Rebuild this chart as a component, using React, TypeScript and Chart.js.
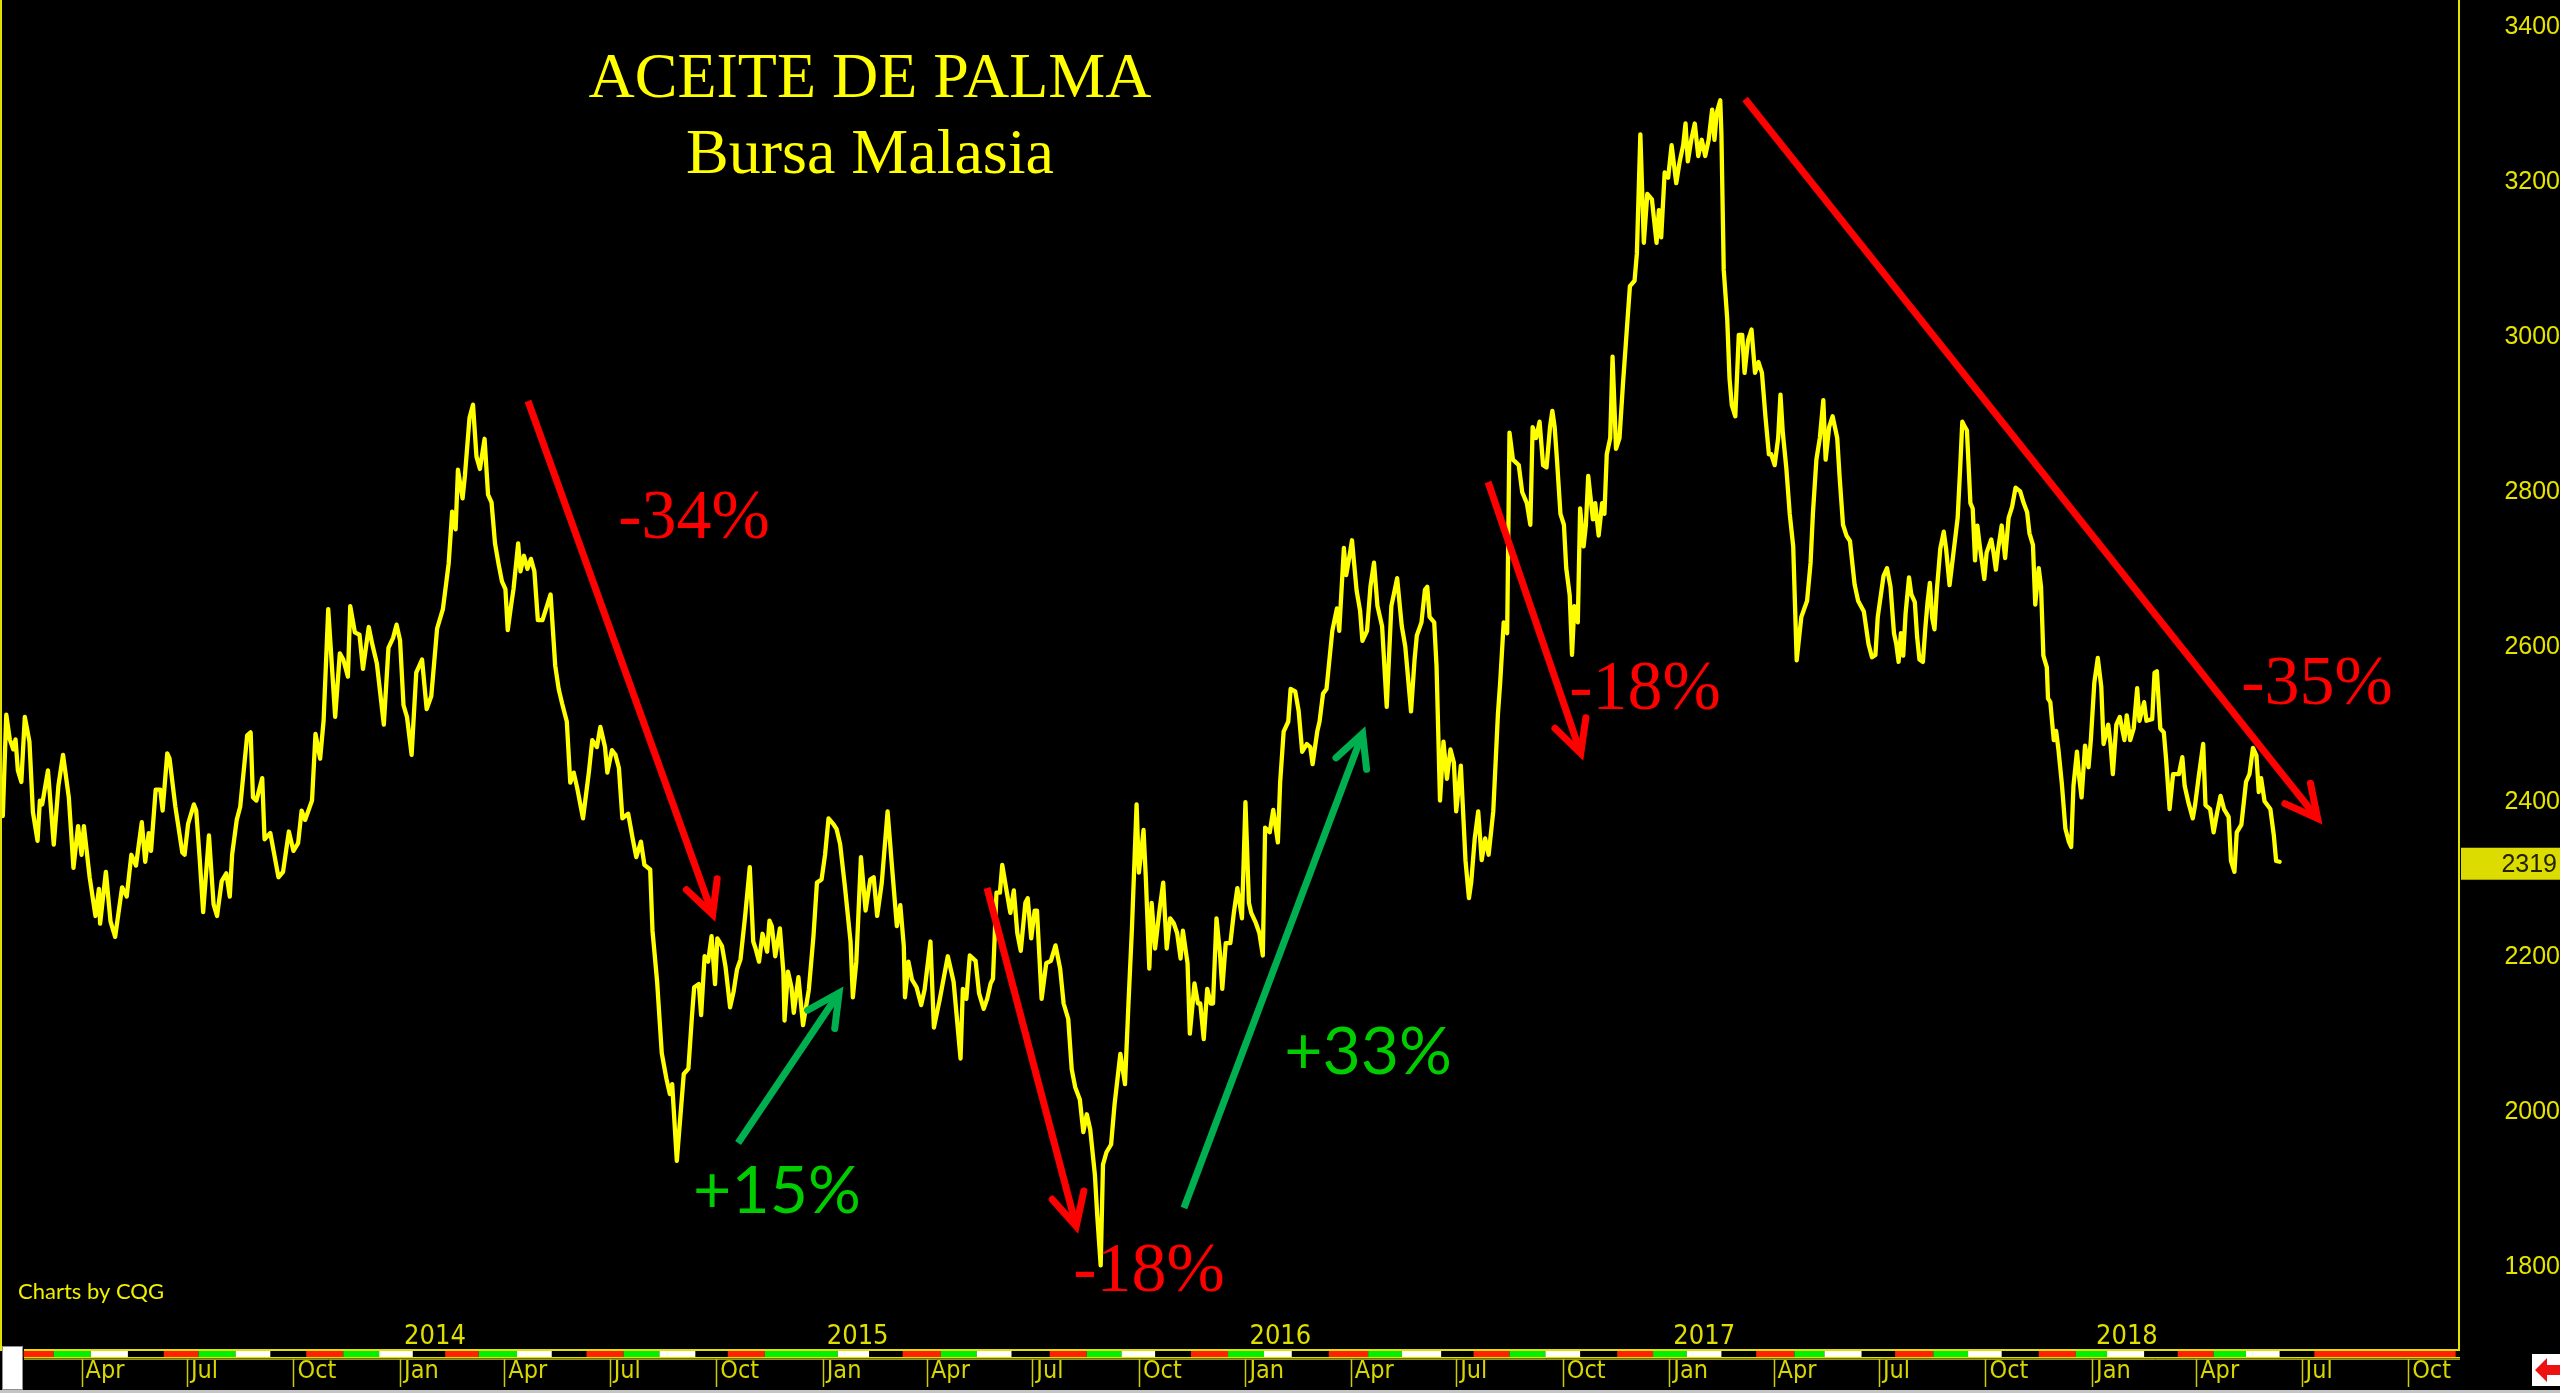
import React, { useEffect, useRef } from 'react';
import { Chart, registerables } from 'chart.js';

Chart.register(...registerables);

// x values: days since 1 Jan 2013 ; y values: price (MYR / tonne)
const days: number[] = [
  22, 25, 28, 31, 33, 35, 38, 41, 45, 48, 52, 54, 56, 61, 66, 70, 74, 79, 83, 87,
  90, 92, 97, 102, 105, 106, 111, 115, 119, 125, 129, 133, 137, 142, 145, 148, 150, 154, 158, 160,
  164, 166, 171, 177, 179, 182, 187, 189, 192, 195, 200, 204, 207, 211, 215, 218, 220, 224, 227, 233,
  236, 238, 241, 246, 248, 253, 260, 264, 269, 273, 277, 280, 283, 289, 292, 296, 299, 303, 309, 313,
  316, 320, 322, 326, 330, 333, 338, 341, 345, 351, 355, 359, 362, 365, 368, 371, 375, 379, 384, 388,
  392, 397, 402, 407, 410, 413, 415, 419, 421, 425, 428,
  431, 434, 438, 441, 444, 447, 450, 453, 456, 458, 461, 463, 467, 469, 472, 475, 478, 481, 484, 488,
  495, 499, 502, 505, 509, 512, 515, 518, 523, 528, 531, 535, 538, 542, 544, 548, 551, 554, 557, 562,
  566, 569, 573, 576, 581, 583, 587, 591, 595, 598, 600, 604, 610, 614, 617, 619, 623, 625, 628, 631,
  634, 637, 639, 643, 646, 650, 653, 656, 659, 663, 667, 670, 672, 675, 678, 682, 684, 686, 689, 693,
  696, 697, 700, 703, 705, 709, 713, 718, 722, 725, 729, 732, 735, 739, 742, 745, 749, 754, 756, 759,
  763, 767, 771, 774, 777, 781, 786, 790, 794, 797, 800, 801, 804, 807, 811, 815, 818, 823, 826, 831,
  838, 843, 849,
  851, 854, 857, 862, 865, 869, 872, 875, 877, 880, 883, 885, 889, 892, 895, 898, 901, 905, 907, 910,
  913, 915, 919, 923, 927, 931, 935, 938, 942, 945, 948, 952, 955, 958, 961, 965, 967, 970, 972, 975,
  979, 982, 987, 991, 994, 997, 1001, 1003, 1005, 1007, 1009, 1012, 1014, 1017, 1021, 1024, 1027, 1030, 1033, 1036,
  1039, 1041, 1045, 1047, 1051, 1054, 1056, 1059, 1062, 1065, 1067, 1070, 1073, 1075, 1078, 1082, 1085, 1088, 1092, 1095,
  1098, 1100, 1104, 1107, 1110, 1112, 1116, 1119, 1123, 1125, 1128, 1132, 1134, 1138, 1141, 1144, 1148, 1151, 1153, 1157,
  1159, 1162, 1165, 1170, 1174, 1176, 1180, 1182, 1185, 1187, 1191, 1194, 1196, 1200, 1203, 1206, 1209, 1213, 1217, 1221,
  1226, 1230, 1233, 1238,
  1241, 1243, 1247, 1250, 1252, 1254, 1258, 1260, 1263, 1266, 1269, 1272, 1275, 1277, 1281, 1285, 1288, 1290, 1293, 1296,
  1299, 1302, 1305, 1309, 1313, 1315, 1318, 1321, 1323, 1326, 1331, 1334, 1338, 1341, 1343, 1346, 1349, 1352, 1355, 1358,
  1360, 1362, 1364, 1367, 1370, 1372, 1375, 1377, 1379, 1382, 1384, 1387, 1389, 1391, 1395, 1397, 1400, 1403, 1405, 1407,
  1410, 1412, 1415, 1418, 1421, 1424, 1427, 1431, 1433, 1436, 1439, 1442, 1446, 1450, 1452, 1454, 1457, 1460, 1463, 1467,
  1470, 1473, 1475, 1477, 1480, 1483, 1486, 1489, 1492, 1495, 1498, 1500, 1502, 1505, 1506, 1508, 1511, 1513, 1515, 1518,
  1521, 1524, 1526, 1529, 1532, 1535, 1538, 1541, 1544, 1547, 1549, 1552, 1555, 1557, 1559, 1562, 1565, 1568, 1571, 1575,
  1580, 1583, 1585, 1588, 1591, 1594, 1596, 1599, 1602, 1606, 1608, 1611, 1614, 1617, 1621, 1624, 1629, 1633, 1636, 1639,
  1641,
  1646, 1649, 1652, 1655, 1657, 1659, 1661, 1663, 1665, 1668, 1670, 1673, 1675, 1677, 1680, 1682, 1684, 1686, 1688, 1690,
  1692, 1695, 1698, 1700, 1703, 1706, 1708, 1710, 1712, 1714, 1716, 1718, 1721, 1723, 1725, 1727, 1729, 1733, 1735, 1739,
  1741, 1743, 1745, 1748, 1751, 1754, 1757, 1760, 1764, 1767, 1770, 1772, 1775, 1777, 1780, 1782, 1784, 1787, 1788, 1790,
  1793, 1795, 1797, 1800, 1803, 1806, 1808, 1810, 1813, 1815, 1817, 1820, 1823, 1825, 1828, 1831, 1834, 1836, 1840, 1842,
  1844, 1847, 1850, 1854, 1856, 1859, 1862, 1865, 1867, 1871, 1873, 1878, 1880, 1882, 1885, 1888, 1890, 1893, 1896, 1901,
  1904, 1906, 1909, 1913, 1915, 1918, 1922, 1924, 1928, 1931, 1934, 1937, 1940, 1944, 1946, 1949, 1951, 1955, 1959, 1962,
  1965, 1968, 1970, 1972, 1975, 1980, 1983, 1985, 1988,
];

const prices: number[] = [
  2378, 2509, 2477, 2464, 2477, 2437, 2422, 2506, 2474, 2383, 2346, 2398, 2393, 2437, 2341, 2417, 2457, 2402, 2311, 2365,
  2328, 2365, 2299, 2249, 2284, 2239, 2306, 2242, 2222, 2286, 2274, 2328, 2314, 2370, 2319, 2356, 2333, 2412, 2412, 2385,
  2459, 2452, 2390, 2331, 2328, 2368, 2393, 2385, 2323, 2254, 2353, 2264, 2249, 2294, 2304, 2274, 2328, 2373, 2390, 2482,
  2486, 2402, 2398, 2427, 2348, 2356, 2299, 2306, 2358, 2333, 2343, 2385, 2373, 2398, 2484, 2452, 2501, 2645, 2506, 2588,
  2580, 2558, 2649, 2615, 2612, 2568, 2622, 2600, 2575, 2496, 2595, 2608, 2625, 2605, 2521, 2506, 2457, 2563, 2580, 2516,
  2533, 2620, 2645, 2704, 2771, 2748, 2825, 2788, 2817, 2892, 2909,
  2842, 2826, 2865, 2793, 2783, 2730, 2704, 2681, 2671, 2618, 2651, 2671, 2730, 2694, 2714, 2697, 2710, 2694, 2631, 2631,
  2664, 2572, 2542, 2523, 2500, 2421, 2434, 2414, 2375, 2434, 2476, 2467, 2493, 2467, 2434, 2463, 2457, 2440, 2375, 2381,
  2348, 2325, 2345, 2315, 2309, 2230, 2164, 2072, 2039, 2019, 2032, 1933, 2045, 2052, 2118, 2157, 2161, 2121, 2197, 2190,
  2223, 2161, 2220, 2210, 2184, 2131, 2151, 2180, 2193, 2249, 2312, 2216, 2207, 2190, 2226, 2203, 2243, 2236, 2197, 2233,
  2177, 2114, 2177, 2157, 2124, 2170, 2108, 2154, 2223, 2292, 2296, 2328, 2375, 2368, 2361, 2342, 2289, 2216, 2144, 2190,
  2325, 2256, 2296, 2299, 2249, 2292, 2384, 2309, 2236, 2263, 2210, 2144, 2190, 2167, 2157, 2134, 2154, 2216, 2105, 2141,
  2197, 2164, 2065,
  2155, 2142, 2198, 2191, 2149, 2129, 2142, 2162, 2168, 2279, 2279, 2315, 2279, 2253, 2282, 2227, 2204, 2266, 2272, 2220,
  2256, 2256, 2142, 2188, 2191, 2211, 2181, 2136, 2116, 2051, 2028, 2012, 1970, 1993, 1973, 1915, 1863, 1798, 1928, 1944,
  1954, 2006, 2071, 2032, 2136, 2233, 2393, 2305, 2331, 2360, 2298, 2181, 2266, 2207, 2259, 2292, 2207, 2246, 2240, 2227,
  2194, 2230, 2188, 2097, 2162, 2136, 2136, 2090, 2155, 2136, 2136, 2246, 2201, 2155, 2214, 2214, 2253, 2285, 2246, 2396,
  2266, 2253, 2240, 2227, 2198, 2363, 2357, 2386, 2344, 2422, 2487, 2500, 2542, 2539, 2513, 2461, 2471, 2467, 2445, 2487,
  2500, 2536, 2542, 2617, 2646, 2617, 2724, 2689, 2715, 2734, 2669, 2643, 2604, 2617, 2675, 2705, 2649, 2623, 2519, 2649,
  2685, 2623, 2597, 2513,
  2579, 2611, 2628, 2670, 2674, 2635, 2628, 2572, 2398, 2474, 2426, 2464, 2447, 2384, 2443, 2321, 2272, 2293, 2349, 2384,
  2321, 2349, 2328, 2384, 2509, 2551, 2628, 2614, 2873, 2838, 2831, 2796, 2782, 2754, 2880, 2866, 2887, 2831, 2828, 2880,
  2901, 2880, 2838, 2768, 2754, 2698, 2663, 2586, 2649, 2628, 2775, 2726, 2754, 2817, 2761, 2782, 2740, 2782, 2768, 2845,
  2866, 2971, 2852, 2866, 2936, 2999, 3062, 3069, 3104, 3258, 3118, 3181, 3174, 3118, 3160, 3125, 3209, 3202, 3244, 3195,
  3223, 3244, 3272, 3223, 3251, 3272, 3230, 3251, 3230, 3251, 3290, 3251, 3286, 3302, 3258, 3083, 3020, 2943, 2908, 2894,
  2999, 2999, 2950, 2992, 3006, 2950, 2964, 2950, 2894, 2845, 2845, 2831, 2866, 2922, 2873, 2828, 2768, 2726, 2579, 2635,
  2656, 2705, 2768, 2838, 2866, 2915, 2838, 2880, 2894, 2866, 2817, 2754, 2740, 2733, 2677, 2656, 2642, 2600, 2583, 2586,
  2635,
  2688, 2698, 2674, 2614, 2600, 2577, 2614, 2585, 2639, 2686, 2664, 2654, 2609, 2580, 2577, 2619, 2654, 2679, 2634, 2619,
  2669, 2723, 2745, 2723, 2676, 2713, 2738, 2763, 2822, 2887, 2881, 2876, 2782, 2775, 2708, 2753, 2728, 2684, 2718, 2735,
  2718, 2696, 2723, 2753, 2711, 2763, 2777, 2802, 2797, 2782, 2770, 2743, 2728, 2651, 2698, 2674, 2585, 2570, 2530, 2525,
  2476, 2488, 2464, 2419, 2362, 2345, 2338, 2417, 2461, 2427, 2402, 2469, 2441, 2476, 2550, 2582, 2545, 2471, 2496, 2471,
  2432, 2496, 2506, 2476, 2508, 2476, 2491, 2543, 2501, 2525, 2501, 2503, 2563, 2565, 2491, 2486, 2451, 2387, 2432, 2432,
  2454, 2417, 2397, 2375, 2392, 2427, 2471, 2392, 2387, 2357, 2382, 2404, 2387, 2377, 2320, 2306, 2357, 2367, 2422, 2432,
  2466, 2456, 2409, 2427, 2397, 2387, 2353, 2320, 2319,
];

const priceTicks = [1800, 2000, 2200, 2400, 2600, 2800, 3000, 3200, 3400];
const monthTicks = [
  '2013-04', '2013-07', '2013-10', '2014-01', '2014-04', '2014-07', '2014-10', '2015-01',
  '2015-04', '2015-07', '2015-10', '2016-01', '2016-04', '2016-07', '2016-10', '2017-01',
  '2017-04', '2017-07', '2017-10', '2018-01', '2018-04', '2018-07', '2018-10',
];
const monthNames = ['Jan', 'Feb', 'Mar', 'Apr', 'May', 'Jun', 'Jul', 'Aug', 'Sep', 'Oct', 'Nov', 'Dec'];
const yearLabels = ['2014', '2015', '2016', '2017', '2018'];
const lastPrice = 2319;

// contract-month strip under the plot (start day of each segment)
const stripeStarts = [
  40, 66, 98, 130, 161, 191, 223, 253, 284, 316, 347, 376, 404, 433, 466, 496, 526, 558, 589, 620,
  648, 680, 743, 770, 799, 832, 863, 893, 926, 958, 988, 1017, 1048, 1080, 1111, 1135, 1167, 1201, 1230, 1264,
  1292, 1323, 1354, 1384, 1416, 1447, 1476, 1506, 1536, 1569, 1595, 1627, 1656, 1689, 1719, 1748, 1780, 1812, 1839, 1871,
  1900, 1931, 1959, 1988, 2018,
];
const stripeColors = 'RGWKRGWKRGWKRGWKRGWKRGWKRGWKRGWKRGWKRGWKRGWKRGWKRGWKRGWKRGWKRGWKR'.split('');
const stripeEnd = 2140;

// move annotations (arrows from -> to, in day / price units)
const moveLabels = ['-34%', '+15%', '-18%', '+33%', '-18%', '-35%'];
const moveIsUp = [false, true, false, true, false, false];
const arrowFromDay = [475.5, 656.9, 871.9, 1041.9, 1304.5, 1526.4];
const arrowFromPrice = [2913.7, 1956, 2285.1, 1872.1, 2809.2, 3303.6];
const arrowToDay = [637.0, 747.5, 950.4, 1198.3, 1386.5, 2024.6];
const arrowToPrice = [2242.5, 2157.3, 1839.8, 2492.9, 2450.3, 2367.7];
const labelDay = [618.9, 690.5, 1011.7, 1200.9, 1440, 2020.3];
const labelPrice = [2736.9, 1865.6, 1764.9, 2045.0, 2516.2, 2522.6];

const titleLines = ['ACEITE DE PALMA', 'Bursa Malasia'];
const credit = 'Charts by CQG';

const BASE = Date.UTC(2013, 0, 1);
const dayOfMonth = (ym: string) => {
  const [yy, mm] = ym.split('-').map(Number);
  return (Date.UTC(yy, mm - 1, 1) - BASE) / 86400000;
};
const monthTickDays = monthTicks.map(dayOfMonth);
const monthTickLabels = monthTicks.map((m) => monthNames[Number(m.slice(5)) - 1]);
const yearDays = yearLabels.map((y) => dayOfMonth(`${y}-01`));

const X_MIN = 21.3;
const X_MAX = 2142.9;
const Y_MIN = 1690;
const Y_MAX = 3431.4;

const NARROW = '"Liberation Sans Narrow", "DejaVu Sans Condensed", sans-serif';
const SANS = '"Liberation Sans", Arial, sans-serif';
const SERIF = '"Liberation Serif", "Times New Roman", serif';
const AXIS_YELLOW = '#e2e200';

const decor = {
  id: 'decor',
  beforeDraw(chart: any) {
    const { ctx } = chart;
    ctx.save();
    ctx.fillStyle = '#000';
    ctx.fillRect(0, 0, chart.width, chart.height);
    ctx.restore();
  },
  afterDraw(chart: any) {
    const { ctx, chartArea: ca, scales } = chart;
    const xs = scales.x;
    const ys = scales.y;
    ctx.save();

    // left border
    ctx.strokeStyle = AXIS_YELLOW;
    ctx.lineWidth = 2;
    ctx.beginPath();
    ctx.moveTo(1, 0);
    ctx.lineTo(1, ca.bottom + 2);
    ctx.stroke();

    // contract strip
    const colorMap: Record<string, string> = { R: '#ff2200', G: '#00f000', W: '#ffffff' };
    for (let i = 0; i < stripeStarts.length; i++) {
      const c = colorMap[stripeColors[i]];
      if (!c) continue;
      const a = xs.getPixelForValue(stripeStarts[i]);
      const b = xs.getPixelForValue(i + 1 < stripeStarts.length ? stripeStarts[i + 1] : stripeEnd);
      ctx.fillStyle = c;
      ctx.fillRect(a, ca.bottom + 2, b - a, 6);
    }
    const stripeLeft = 24;
    ctx.strokeStyle = AXIS_YELLOW;
    ctx.lineWidth = 2;
    ctx.beginPath();
    ctx.moveTo(stripeLeft, ca.bottom + 1);
    ctx.lineTo(ca.right + 1, ca.bottom + 1);
    ctx.stroke();
    ctx.lineWidth = 1.5;
    ctx.beginPath();
    ctx.moveTo(stripeLeft, ca.bottom + 8.75);
    ctx.lineTo(ca.right + 1, ca.bottom + 8.75);
    ctx.stroke();
    ctx.strokeStyle = '#9a9a00';
    ctx.lineWidth = 1;
    ctx.beginPath();
    ctx.moveTo(stripeLeft, ca.bottom + 10.5);
    ctx.lineTo(ca.right + 1, ca.bottom + 10.5);
    ctx.stroke();

    // month tick marks
    ctx.strokeStyle = '#cccc00';
    ctx.lineWidth = 1.5;
    monthTickDays.forEach((d) => {
      const px = Math.round(xs.getPixelForValue(d)) + 0.5;
      ctx.beginPath();
      ctx.moveTo(px, ca.bottom + 10);
      ctx.lineTo(px, ca.bottom + 38);
      ctx.stroke();
    });

    // year labels
    ctx.fillStyle = '#dede00';
    ctx.font = `27px ${NARROW}`;
    ctx.textAlign = 'left';
    ctx.textBaseline = 'alphabetic';
    yearLabels.forEach((lab, i) => {
      ctx.fillText(lab, xs.getPixelForValue(yearDays[i]) + 4, ca.bottom - 5);
    });

    // credit
    ctx.fillStyle = '#f0f000';
    ctx.font = '22px Lato, "Open Sans", sans-serif';
    ctx.fillText(credit, 18, 1299);

    // title
    ctx.fillStyle = '#ffff00';
    ctx.textAlign = 'center';
    ctx.font = `64px ${SERIF}`;
    ctx.fillText(titleLines[0], 870, 97);
    ctx.fillText(titleLines[1], 870, 173);

    // arrows
    const drawArrow = (x1: number, y1: number, x2: number, y2: number, color: string) => {
      const ang = Math.atan2(y2 - y1, x2 - x1);
      const ux = Math.cos(ang);
      const uy = Math.sin(ang);
      const tx = x2 - ux * 7;
      const ty = y2 - uy * 7;
      ctx.strokeStyle = color;
      ctx.lineWidth = 7;
      ctx.lineCap = 'butt';
      ctx.beginPath();
      ctx.moveTo(x1, y1);
      ctx.lineTo(tx - ux * 2, ty - uy * 2);
      ctx.stroke();
      const L = 36;
      const a = (27 * Math.PI) / 180;
      ctx.lineCap = 'round';
      ctx.lineJoin = 'miter';
      ctx.miterLimit = 10;
      ctx.beginPath();
      ctx.moveTo(tx - L * Math.cos(ang - a), ty - L * Math.sin(ang - a));
      ctx.lineTo(tx, ty);
      ctx.lineTo(tx - L * Math.cos(ang + a), ty - L * Math.sin(ang + a));
      ctx.stroke();
    };
    for (let i = 0; i < moveLabels.length; i++) {
      drawArrow(
        xs.getPixelForValue(arrowFromDay[i]),
        ys.getPixelForValue(arrowFromPrice[i]),
        xs.getPixelForValue(arrowToDay[i]),
        ys.getPixelForValue(arrowToPrice[i]),
        moveIsUp[i] ? '#00b050' : '#ff0000'
      );
    }

    // move labels
    ctx.textAlign = 'center';
    ctx.textBaseline = 'alphabetic';
    for (let i = 0; i < moveLabels.length; i++) {
      if (moveIsUp[i]) {
        ctx.fillStyle = '#00cc00';
        ctx.font = '66px Lato, "Open Sans", sans-serif';
      } else {
        ctx.fillStyle = '#ff0000';
        ctx.font = `70px ${SERIF}`;
      }
      ctx.fillText(moveLabels[i], xs.getPixelForValue(labelDay[i]), ys.getPixelForValue(labelPrice[i]));
    }

    // last price box
    const py = ys.getPixelForValue(lastPrice);
    ctx.fillStyle = '#dcdc00';
    ctx.fillRect(ca.right + 2, py - 14, chart.width - ca.right - 2, 32);
    ctx.fillStyle = '#222200';
    ctx.font = `25px ${SANS}`;
    ctx.textAlign = 'right';
    ctx.textBaseline = 'middle';
    ctx.fillText(String(lastPrice), 2557, py + 3);

    // scroll thumb bottom-left
    ctx.fillStyle = '#ffffff';
    ctx.fillRect(2, 1346, 20, 43);
    ctx.strokeStyle = '#909090';
    ctx.lineWidth = 1;
    ctx.strokeRect(2.5, 1346.5, 20, 43);

    // bottom grey bar
    ctx.fillStyle = '#c4c4c4';
    ctx.fillRect(0, 1390, chart.width, 3);

    // red back-arrow icon bottom-right
    ctx.fillStyle = '#ffffff';
    ctx.fillRect(2532, 1354, 28, 32);
    ctx.fillStyle = '#ee1111';
    ctx.beginPath();
    ctx.moveTo(2535, 1370);
    ctx.lineTo(2547, 1358);
    ctx.lineTo(2547, 1365);
    ctx.lineTo(2560, 1365);
    ctx.lineTo(2560, 1375);
    ctx.lineTo(2547, 1375);
    ctx.lineTo(2547, 1382);
    ctx.closePath();
    ctx.fill();

    ctx.restore();
  },
};

export default function App() {
  const ref = useRef<HTMLCanvasElement>(null);

  useEffect(() => {
    let chart: Chart | null = null;
    let cancelled = false;
    const fontsToLoad = [
      `64px ${SERIF}`,
      `25px ${SANS}`,
      `25px ${NARROW}`,
      '66px Lato',
    ];
    const loaders = (document as any).fonts
      ? fontsToLoad.map((f) => (document as any).fonts.load(f).catch(() => null))
      : [];
    Promise.all(loaders).then(() => {
      if (cancelled || !ref.current) return;
      const n = Math.min(days.length, prices.length);
      const points = [];
      for (let i = 0; i < n; i++) points.push({ x: days[i], y: prices[i] });
      chart = new Chart(ref.current, {
        type: 'line',
        data: {
          datasets: [
            {
              data: points,
              borderColor: '#ffff00',
              borderWidth: 4.3,
              borderJoinStyle: 'round',
              borderCapStyle: 'round',
              pointRadius: 0,
              tension: 0,
              fill: false,
            },
          ],
        },
        options: {
          animation: false,
          responsive: false,
          maintainAspectRatio: false,
          events: [],
          layout: { padding: { left: 2, right: 0, top: 0, bottom: 0 } },
          plugins: {
            legend: { display: false },
            tooltip: { enabled: false },
            title: { display: false },
          },
          scales: {
            x: {
              type: 'linear',
              position: 'bottom',
              min: X_MIN,
              max: X_MAX,
              grid: { display: false, drawTicks: false },
              border: { display: false },
              afterBuildTicks: (axis: any) => {
                axis.ticks = monthTickDays.map((v) => ({ value: v }));
              },
              afterFit: (axis: any) => {
                axis.height = 44;
                axis.paddingLeft = 0;
                axis.paddingRight = 0;
              },
              ticks: {
                autoSkip: false,
                maxRotation: 0,
                minRotation: 0,
                align: 'start',
                labelOffset: 4,
                padding: 7,
                color: '#d6d600',
                font: { family: NARROW, size: 25 },
                callback: (_v: any, i: number) => monthTickLabels[i],
              },
            },
            y: {
              type: 'linear',
              position: 'right',
              min: Y_MIN,
              max: Y_MAX,
              grid: { display: false, drawTicks: false },
              border: { display: true, color: AXIS_YELLOW, width: 2 },
              afterBuildTicks: (axis: any) => {
                axis.ticks = priceTicks.map((v) => ({ value: v }));
              },
              afterFit: (axis: any) => {
                axis.width = 101;
                axis.paddingTop = 0;
                axis.paddingBottom = 0;
              },
              ticks: {
                crossAlign: 'far',
                padding: 42,
                labelOffset: 3,
                color: '#e4e400',
                font: { family: SANS, size: 25 },
                callback: (v: any) => String(v),
              },
            },
          },
        } as any,
        plugins: [decor],
      });
    });
    return () => {
      cancelled = true;
      if (chart) chart.destroy();
    };
  }, []);

  return (
    <div
      style={{
        position: 'fixed',
        left: 0,
        top: 0,
        width: 2560,
        height: 1393,
        background: '#000',
        overflow: 'hidden',
      }}
    >
      <canvas ref={ref} width={2560} height={1393} style={{ display: 'block', width: 2560, height: 1393 }} />
    </div>
  );
}
